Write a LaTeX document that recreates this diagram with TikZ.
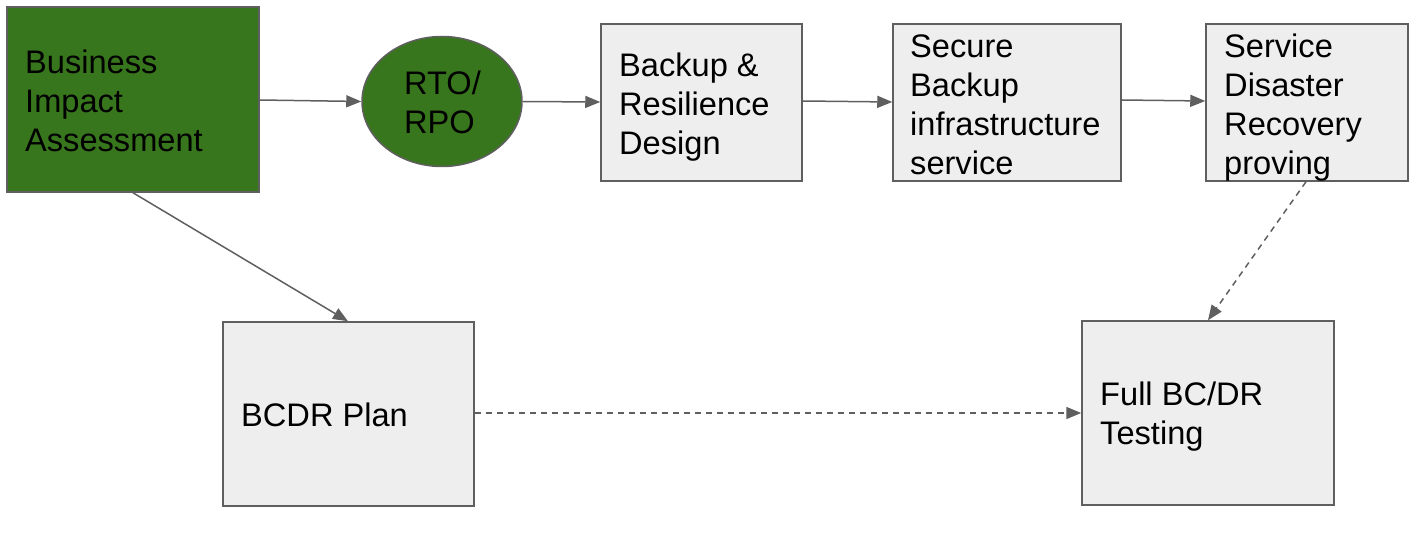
\documentclass[tikz,border=0pt]{standalone}
\usepackage{fontspec}
\setmainfont{Liberation Sans}
\usetikzlibrary{arrows.meta,shapes.geometric}
\definecolor{dkgreen}{HTML}{38761D}
\definecolor{boxfill}{HTML}{EEEEEE}
\definecolor{edge}{HTML}{5F5F5F}
\tikzset{
  box/.style={draw=edge, line width=1.5pt, fill=boxfill, inner sep=0pt},
  greenbox/.style={box, fill=dkgreen},
  txt/.style={anchor=west, inner sep=0pt, align=left, font=\fontsize{32.6}{39}\selectfont},
  conn/.style={draw=edge, line width=1.5pt, -{Triangle[length=15pt,width=12pt]}},
  dconn/.style={conn, dash pattern=on 6pt off 5pt}
}
\begin{document}
\begin{tikzpicture}[x=1pt,y=-1pt]
\useasboundingbox (0,0) rectangle (1427,537);
% boxes
\node[greenbox, minimum width=252pt, minimum height=185pt] (bia) at (133,99.5) {};
\node[draw=edge, line width=1.5pt, fill=dkgreen, ellipse, minimum width=160pt, minimum height=130pt, inner sep=0pt] (rto) at (442,101.5) {};
\node[box, minimum width=201pt, minimum height=157pt] (brd) at (701.5,102.5) {};
\node[box, minimum width=228pt, minimum height=157pt] (sbi) at (1007,102.5) {};
\node[box, minimum width=202pt, minimum height=157pt] (sdr) at (1307,102.5) {};
\node[box, minimum width=251pt, minimum height=184pt] (plan) at (348.5,414) {};
\node[box, minimum width=252pt, minimum height=184pt] (full) at (1208,413) {};
% texts
\node[txt] (tbia) at (25,101) {Business\\Impact\\Assessment};
\node[txt] (trto) at (404,102.5) {RTO/\\RPO};
\node[txt] (tbrd) at (619,107) {Backup \&\\Resilience\\Design};
\node[txt] (tsbi) at (910,105) {Secure\\Backup\\infrastructure\\service};
\node[txt] (tsdr) at (1224,108) {Service\\Disaster\\Recovery\\proving};
\node[txt] (tplan) at (241,415) {BCDR Plan};
\node[txt] (tfull) at (1100,417) {Full BC/DR\\Testing};
% connectors
\draw[conn] (bia.east |- 0,100) -- (rto.west);
\draw[conn] (rto.east) -- (brd.west |- 0,102);
\draw[conn] (brd.east |- 0,101) -- (sbi.west |- 0,102);
\draw[conn] (sbi.east |- 0,100) -- (sdr.west |- 0,101);
\draw[conn] (bia.south -| 133,0) -- (plan.north -| 348,0);
\draw[dconn] (sdr.south -| 1306,0) -- (full.north -| 1208,0);
\draw[dconn] (plan.east |- 0,413) -- (full.west |- 0,413);
\end{tikzpicture}
\end{document}
